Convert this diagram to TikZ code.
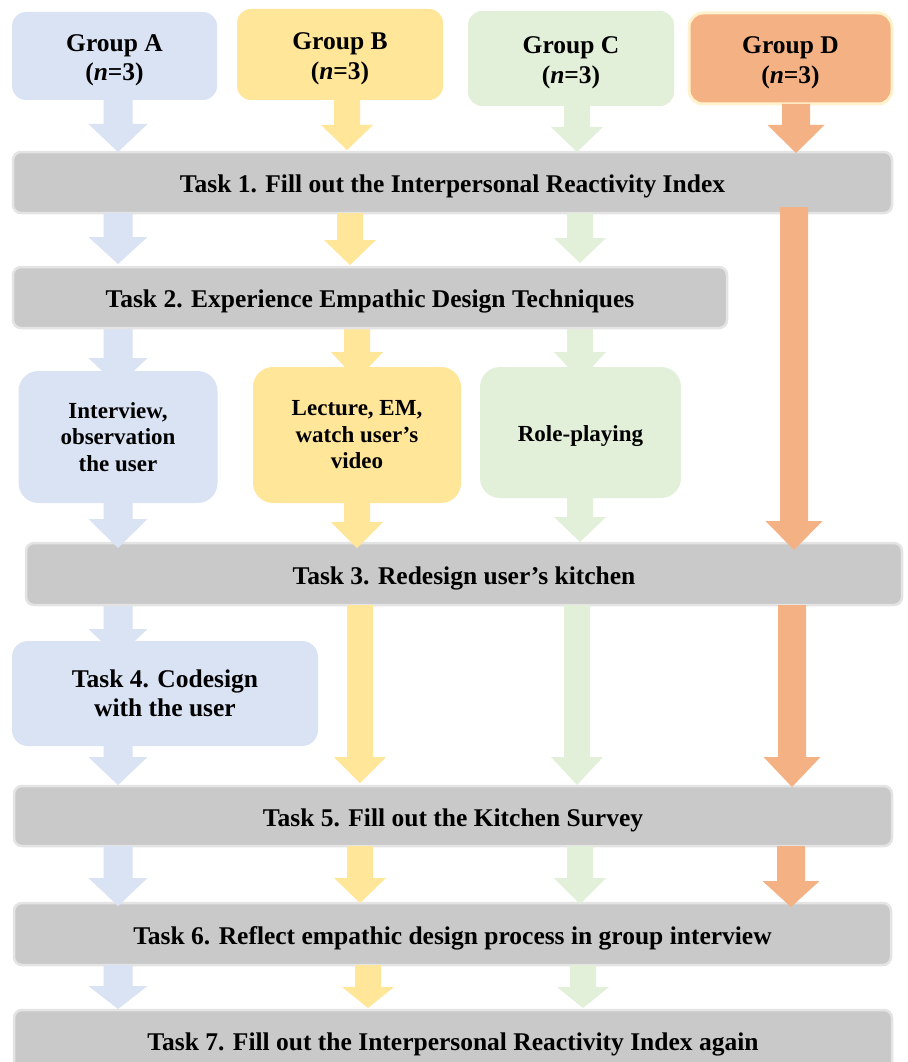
\documentclass[tikz,border=0pt]{standalone}
\usepackage{fontspec}
\setmainfont{Liberation Serif}
\usetikzlibrary{calc,backgrounds}
\definecolor{cA}{HTML}{DAE3F3}
\definecolor{cB}{HTML}{FFE699}
\definecolor{cC}{HTML}{E2F0D9}
\definecolor{cD}{HTML}{F4B183}
\definecolor{cG}{HTML}{C9C9C9}
\definecolor{cGb}{HTML}{E4E4E4}
\definecolor{cDb}{HTML}{FFF2CC}
% block arrow: colour, x, source node, target node, shaft half, head half, head length, tip overshoot
\newcommand\barr[8]{%
  \fill[#1] let \p1=(#3.south), \p2=(#4.north),
    \n1={\y2-(#8pt)}, \n2={\y2-(#8pt)+#7pt} in
  ({#2pt-#5pt},\y1) -- ({#2pt+#5pt},\y1) -- ({#2pt+#5pt},\n2) -- ({#2pt+#6pt},\n2)
  -- ({#2pt},\n1) -- ({#2pt-#6pt},\n2) -- ({#2pt-#5pt},\n2) -- cycle;}
\newcommand\arA[5]{\barr{cA}{#1}{#2}{#3}{14.5}{29.5}{#4}{#5}}
\newcommand\arB[5]{\barr{cB}{#1}{#2}{#3}{13}{26}{#4}{#5}}
\newcommand\arC[5]{\barr{cC}{#1}{#2}{#3}{13}{26}{#4}{#5}}
\newcommand\arD[5]{\barr{cD}{#1}{#2}{#3}{14}{28.5}{#4}{#5}}
\newcommand\grptext[1]{\rule{0pt}{25pt}Group #1\\(\textit{n}=3)}
\tikzset{
  grp/.style={rounded corners=14pt, inner sep=0pt, outer sep=0pt, align=center,
    font=\bfseries\fontsize{25.5}{29.5}\selectfont},
  task/.style={fill=cG, draw=cGb, line width=2.5pt, rounded corners=8pt, inner sep=0pt, outer sep=0pt,
    font=\bfseries\fontsize{25.5}{29}\selectfont, text height=20pt, text depth=0pt},
  sub/.style={rounded corners=20pt, inner sep=0pt, outer sep=0pt, align=center,
    font=\bfseries\fontsize{23}{26.5}\selectfont},
}
\begin{document}
\begin{tikzpicture}[x=1pt,y=-1pt]
\useasboundingbox (0,0) rectangle (907,1062);
% groups
\node[grp, fill=cA, minimum width=205pt, minimum height=88pt] (gA) at (114.5,56) {\grptext{A}};
\node[grp, fill=cB, minimum width=206pt, minimum height=91pt] (gB) at (340,54.5) {\grptext{B}};
\node[grp, fill=cC, minimum width=206pt, minimum height=95pt] (gC) at (571,58.5) {\grptext{C}};
\node[grp, fill=cD, draw=cDb, line width=3pt, minimum width=203pt, minimum height=91pt] (gD) at (790.5,58.5) {\grptext{D}};
% tasks
\node[task, minimum width=879pt, minimum height=61pt] (t1) at (452.5,182.5) {Task 1. Fill out the Interpersonal Reactivity Index};
\node[task, minimum width=714pt, minimum height=61pt] (t2) at (370,297.5) {Task 2. Experience Empathic Design Techniques};
\node[sub, fill=cA, minimum width=199pt, minimum height=132pt] (sA) at (118,437) {Interview,\\observation\\the user};
\node[sub, fill=cB, minimum width=208pt, minimum height=136pt] (sB) at (357,435) {Lecture, EM,\\watch user’s\\video};
\node[sub, fill=cC, minimum width=201pt, minimum height=131pt, text height=17pt, text depth=0pt] (sC) at (580.5,432.5) {Role-playing};
\node[task, minimum width=876pt, minimum height=62pt] (t3) at (464,574) {Task 3. Redesign user’s kitchen};
\node[grp, fill=cA, rounded corners=16pt, font=\bfseries\fontsize{25.5}{29}\selectfont, minimum width=306pt, minimum height=105pt] (t4) at (165,693.5) {Task 4. Codesign\\with the user};
\node[task, minimum width=878pt, minimum height=60pt] (t5) at (453,816) {Task 5. Fill out the Kitchen Survey};
\node[task, minimum width=877pt, minimum height=62pt] (t6) at (452.5,934) {Task 6. Reflect empathic design process in group interview};
\node[task, minimum width=878pt, minimum height=60pt] (t7) at (453,1040) {Task 7. Fill out the Interpersonal Reactivity Index again};
\node[inner sep=0pt, outer sep=0pt, minimum size=0pt] (dS) at (794,207) {};
% arrows whose tips are hidden behind the boxes
\begin{pgfonlayer}{background}
\fill[white] (0,0) rectangle (907,1062);
\arA{118}{t2}{sA}{28}{15}
\arB{357}{t2}{sB}{28}{13}
\arC{580}{t2}{sC}{28}{13}
\arA{118}{t3}{t4}{28}{16}
\end{pgfonlayer}
% group -> task 1
\arA{118}{gA}{t1}{28}{0}
\arB{347}{gB}{t1}{25}{-2}
\arC{577}{gC}{t1}{25}{0}
\arD{796}{gD}{t1}{28}{1}
% task 1 -> task 2
\arA{118}{t1}{t2}{27}{-3}
\arB{350}{t1}{t2}{25}{-2}
\arC{580}{t1}{t2}{25}{-4}
\arD{794}{dS}{t3}{29}{7}
% techniques -> task 3
\arA{118}{sA}{t3}{29}{5}
\arB{357}{sB}{t3}{26}{5}
\arC{580}{sC}{t3}{25}{-1}
% -> task 5
\arA{118}{t4}{t5}{28}{-1}
\arB{360}{t3}{t5}{26}{-3}
\arC{577}{t3}{t5}{28}{-1}
\arD{792}{t3}{t5}{30}{1}
% task 5 -> task 6
\arA{118}{t5}{t6}{28}{3}
\arB{360}{t5}{t6}{25}{0}
\arC{580}{t5}{t6}{26}{1}
\arD{791}{t5}{t6}{26}{4}
% task 6 -> task 7
\arA{118}{t6}{t7}{23}{-1}
\arB{368}{t6}{t7}{21}{-2}
\arC{583}{t6}{t7}{21}{-2}
\end{tikzpicture}
\end{document}
